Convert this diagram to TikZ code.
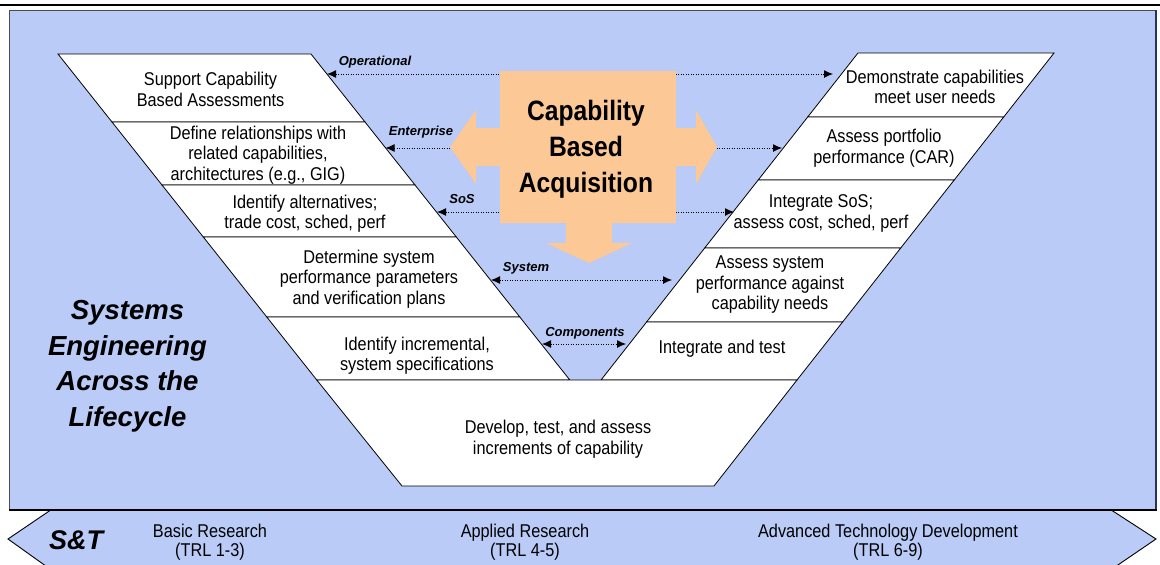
\documentclass[tikz,border=0pt]{standalone}
\usepackage{fontspec}
\setmainfont{Liberation Sans}
\newfontfamily\condfont{Liberation Sans}[FakeStretch=0.88]
\usetikzlibrary{arrows.meta}
\definecolor{bgblue}{RGB}{185,203,246}
\definecolor{peach}{RGB}{251,200,150}
\definecolor{edgenavy}{RGB}{40,50,90}
\tikzset{
  blockshape/.style={fill=white, draw=black, line width=0.8pt, line join=miter},
  blocktext/.style={font=\condfont\fontsize{18.5}{20.5}\selectfont, align=center, inner sep=0pt},
  lvl/.style={font=\bfseries\itshape\fontsize{13}{15}\selectfont, inner sep=0pt},
  dotarrow/.style={line width=0.9pt, dash pattern=on 0.9pt off 1.6pt,
    {Latex[length=9pt,width=8pt]}-{Latex[length=9pt,width=8pt]}},
  bandtext/.style={font=\condfont\fontsize{18.5}{19}\selectfont, align=center, inner sep=0pt},
  bigtext/.style={font=\condfont\bfseries\fontsize{28}{36}\selectfont, align=center, inner sep=0pt},
  sidetext/.style={font=\bfseries\itshape\fontsize{27.5}{35.5}\selectfont, align=center, inner sep=0pt}
}
\begin{document}
\begin{tikzpicture}[x=1pt,y=-1pt]
\useasboundingbox (0,0) rectangle (1160,565);
% panel
\fill[bgblue] (9,10) rectangle (1157,510);
\draw[line width=0.8pt, black!70] (9,510) -- (9,10) -- (1157,10);
\draw[line width=2pt, edgenavy] (1156,10) -- (1156,510);
\draw[line width=2.6pt] (0,5) -- (1160,5);
% band
\filldraw[fill=bgblue, draw=black, line width=0.9pt] (50,569) -- (8,539) -- (50,510.5) -- (1112,510.5) -- (1156,539) -- (1112,569);
\draw[line width=1.2pt] (9,510) -- (1157,510);
% left blocks
\draw[blockshape] (58,54) -- (311,54) -- (365,122) -- (112,122) -- cycle;
\draw[blockshape] (112,122) -- (365,122) -- (415,185) -- (162,185) -- cycle;
\draw[blockshape] (162,185) -- (415,185) -- (456.3,237) -- (203.3,237) -- cycle;
\draw[blockshape] (203.3,237) -- (456.3,237) -- (519.8,317) -- (266.8,317) -- cycle;
\draw[blockshape] (266.8,317) -- (519.8,317) -- (569.8,380) -- (316.8,380) -- cycle;
% right blocks
\draw[blockshape] (858,53) -- (1054,53) -- (1003.7,117) -- (807.7,117) -- cycle;
\draw[blockshape] (807.7,117) -- (1003.7,117) -- (954.2,180) -- (758.2,180) -- cycle;
\draw[blockshape] (758.2,180) -- (954.2,180) -- (900.7,248) -- (704.7,248) -- cycle;
\draw[blockshape] (704.7,248) -- (900.7,248) -- (842.6,322) -- (646.6,322) -- cycle;
\draw[blockshape] (646.6,322) -- (842.6,322) -- (797,380) -- (601,380) -- cycle;
% bottom block
\draw[blockshape] (316.8,380) -- (797,380) -- (714,486) -- (402,486) -- cycle;
% arrow ends
\coordinate (opL) at (327,74);   \coordinate (opR) at (833,74);
\coordinate (enL) at (385.5,148); \coordinate (enR) at (782,148);
\coordinate (sosL) at (437,212); \coordinate (sosR) at (734,212);
\coordinate (sysL) at (491,280); \coordinate (sysR) at (672,280);
\coordinate (coL) at (542,344);  \coordinate (coR) at (626,344);
\draw[dotarrow] (opL) -- (opR);
\draw[dotarrow] (enL) -- (enR);
\draw[dotarrow] (sosL) -- (sosR);
\draw[dotarrow] (sysL) -- (sysR);
\draw[dotarrow] (coL) -- (coR);
% level labels
\node[lvl] (lop) at (375,62) {Operational};
\node[lvl] (lent) at (421,132) {Enterprise};
\node[lvl] (lsos) at (462,199) {SoS};
\node[lvl] (lsys) at (526,268) {System};
\node[lvl] (lcomp) at (585,333) {Components};
% capability shape
\fill[peach] (500,71) -- (676,71) -- (676,128) -- (696,128) -- (696,110) -- (717,147) -- (696,184) -- (696,166) -- (676,166) -- (676,223) -- (612,223) -- (612,243) -- (632,243) -- (589,263) -- (546,243) -- (566,243) -- (566,223) -- (500,223) -- (500,166) -- (476,166) -- (476,184) -- (450,147) -- (476,110) -- (476,128) -- (500,128) -- cycle;
\node[bigtext] (cba) at (586,149) {Capability\\Based\\Acquisition};
% block texts
\node[blocktext] (l1) at (210.5,89.5) {Support Capability\\Based Assessments};
\node[blocktext] (l2) at (258,155) {Define relationships with\\related capabilities,\\architectures (e.g., GIG)};
\node[blocktext] (l3) at (305,213.5) {Identify alternatives;\\trade cost, sched, perf};
\node[blocktext] (l4) at (369,279) {Determine system\\performance parameters\\and verification plans};
\node[blocktext] (l5) at (417,355.5) {Identify incremental,\\system specifications};
\node[blocktext] (r1) at (935,87) {Demonstrate capabilities\\meet user needs};
\node[blocktext] (r2) at (884,148) {Assess portfolio\\performance (CAR)};
\node[blocktext] (r3) at (821,213.5) {Integrate SoS;\\assess cost, sched, perf};
\node[blocktext] (r4) at (770,285) {Assess system\\performance against\\capability needs};
\node[blocktext] (r5) at (722,349) {Integrate and test};
\node[blocktext] (bot) at (558,439) {Develop, test, and assess\\increments of capability};
% side label
\node[sidetext] (sel) at (127.5,366) {Systems\\Engineering\\Across the\\Lifecycle};
% band labels
\node[font=\bfseries\itshape\fontsize{27}{30}\selectfont, inner sep=0pt] (st) at (76,540) {S\&T};
\node[bandtext] (basic) at (210,542) {Basic Research\\(TRL 1-3)};
\node[bandtext] (applied) at (525,542) {Applied Research\\(TRL 4-5)};
\node[bandtext] (atd) at (888,542) {Advanced Technology Development\\(TRL 6-9)};
\end{tikzpicture}
\end{document}
